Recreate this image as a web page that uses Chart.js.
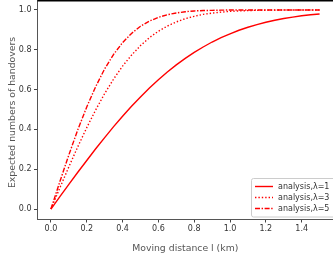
<!DOCTYPE html>
<html>
<head>
<meta charset="utf-8">
<script src="https://cdn.jsdelivr.net/npm/chart.js@4/dist/chart.umd.min.js"></script>
<style>
  html, body { margin: 0; padding: 0; background: #fff; }
  #wrap { width: 333px; height: 254px; position: relative; }
</style>
</head>
<body>
<div id="wrap"><canvas id="handover-chart"></canvas></div>
<script>
// moving distance l (km)
const distances = [0, 0.05, 0.1, 0.15, 0.2, 0.25, 0.3, 0.35, 0.4, 0.45, 0.5, 0.55, 0.6, 0.65, 0.7, 0.75,
    0.8, 0.85, 0.9, 0.95, 1.0, 1.05, 1.1, 1.15, 1.2, 1.25, 1.3, 1.35, 1.4, 1.45, 1.5];

// expected numbers of handovers
const lambda1 = [0, 0.062, 0.124, 0.185, 0.244, 0.303, 0.359, 0.414, 0.466, 0.516, 0.563, 0.608, 0.649, 0.688, 0.724, 0.757,
    0.787, 0.814, 0.839, 0.861, 0.880, 0.898, 0.913, 0.926, 0.938, 0.948, 0.957, 0.964, 0.971, 0.976, 0.980];
const lambda3 = [0, 0.107, 0.212, 0.313, 0.409, 0.498, 0.580, 0.653, 0.718, 0.773, 0.821, 0.861, 0.893, 0.919, 0.940, 0.956,
    0.968, 0.978, 0.984, 0.989, 0.993, 0.995, 0.997, 0.998, 0.999, 0.999, 1.0, 1.0, 1.0, 1.0, 1.0];
const lambda5 = [0, 0.138, 0.272, 0.398, 0.513, 0.615, 0.704, 0.777, 0.836, 0.882, 0.918, 0.944, 0.963, 0.976, 0.985, 0.991,
    0.995, 0.997, 0.998, 0.999, 1.0, 1.0, 1.0, 1.0, 1.0, 1.0, 1.0, 1.0, 1.0, 1.0, 1.0];

const seriesLabels = ['analysis,\u03bb=1', 'analysis,\u03bb=3', 'analysis,\u03bb=5'];
const xTicks = [0, 0.2, 0.4, 0.6, 0.8, 1.0, 1.2, 1.4];
const yTicks = [0, 0.2, 0.4, 0.6, 0.8, 1.0];

const toPoints = (ys) => distances.map((x, i) => ({ x: x, y: ys[i] }));

const tickFont = { family: 'DejaVu Sans', size: 8 };
const titleFont = { family: 'DejaVu Sans', size: 9.3 };

// legend box drawn inside the plot, lower right, plus the top frame line
const framePlugin = {
    id: 'frame',
    afterDatasetsDraw(chart) {
        const ctx = chart.ctx;
        const area = chart.chartArea;
        ctx.save();
        ctx.fillStyle = '#000';
        ctx.fillRect(area.left, 0, area.right - area.left, 1.5);

        const bx = 251.5, by = 178.5, bw = 90, bh = 38.5;
        ctx.fillStyle = 'rgba(255,255,255,0.8)';
        ctx.strokeStyle = '#cccccc';
        ctx.lineWidth = 1;
        ctx.beginPath();
        ctx.roundRect(bx, by, bw, bh, 2);
        ctx.fill();
        ctx.stroke();

        const rows = [186.5, 197.5, 208.5];
        chart.data.datasets.forEach((ds, i) => {
            ctx.strokeStyle = ds.borderColor;
            ctx.lineWidth = ds.borderWidth;
            ctx.setLineDash(ds.borderDash || []);
            ctx.beginPath();
            ctx.moveTo(255, rows[i]);
            ctx.lineTo(273, rows[i]);
            ctx.stroke();
            ctx.setLineDash([]);
            ctx.fillStyle = '#333';
            ctx.font = '8px "DejaVu Sans"';
            ctx.textBaseline = 'middle';
            ctx.textAlign = 'left';
            ctx.fillText(ds.label, 278, rows[i]);
        });
        ctx.restore();
    }
};

new Chart(document.getElementById('handover-chart').getContext('2d'), {
    type: 'line',
    data: {
        datasets: [
            { label: seriesLabels[0], data: toPoints(lambda1), borderColor: '#ff0000', borderWidth: 1.4, borderDash: [] },
            { label: seriesLabels[1], data: toPoints(lambda3), borderColor: '#ff0000', borderWidth: 1.4, borderDash: [1.4, 2] },
            { label: seriesLabels[2], data: toPoints(lambda5), borderColor: '#ff0000', borderWidth: 1.4, borderDash: [5, 1.6, 1.4, 1.6] },
        ],
    },
    options: {
        responsive: true,
        maintainAspectRatio: false,
        animation: false,
        layout: { padding: 0 },
        elements: { point: { radius: 0 }, line: { tension: 0, fill: false } },
        plugins: { legend: { display: false }, tooltip: { enabled: false } },
        scales: {
            x: {
                type: 'linear',
                min: -0.075,
                max: 1.575,
                afterBuildTicks: (scale) => { scale.ticks = xTicks.map(v => ({ value: v })); },
                afterFit: (scale) => { scale.height = 35; scale.paddingLeft = 0; scale.paddingRight = 0; },
                grid: { drawOnChartArea: false, drawTicks: true, tickLength: 3.5, color: '#444' },
                border: { display: true, color: '#555', width: 1 },
                ticks: { font: tickFont, color: '#333', padding: 2, maxRotation: 0, callback: v => v.toFixed(1) },
                title: { display: true, text: 'Moving distance l (km)', font: titleFont, color: '#555', padding: { top: 0, bottom: 0 } },
            },
            y: {
                min: -0.05,
                max: 1.05,
                afterBuildTicks: (scale) => { scale.ticks = yTicks.map(v => ({ value: v })); },
                afterFit: (scale) => { scale.width = 37.5; scale.paddingTop = 0; scale.paddingBottom = 0; },
                grid: { drawOnChartArea: false, drawTicks: true, tickLength: 3.5, color: '#444' },
                border: { display: true, color: '#555', width: 1 },
                ticks: { font: tickFont, color: '#333', padding: 2.5, callback: v => v.toFixed(1) },
                title: { display: true, text: 'Expected numbers of handovers  ', font: titleFont, color: '#555', padding: { top: 7, bottom: 0 } },
            },
        },
    },
    plugins: [framePlugin],
});
</script>
</body>
</html>
